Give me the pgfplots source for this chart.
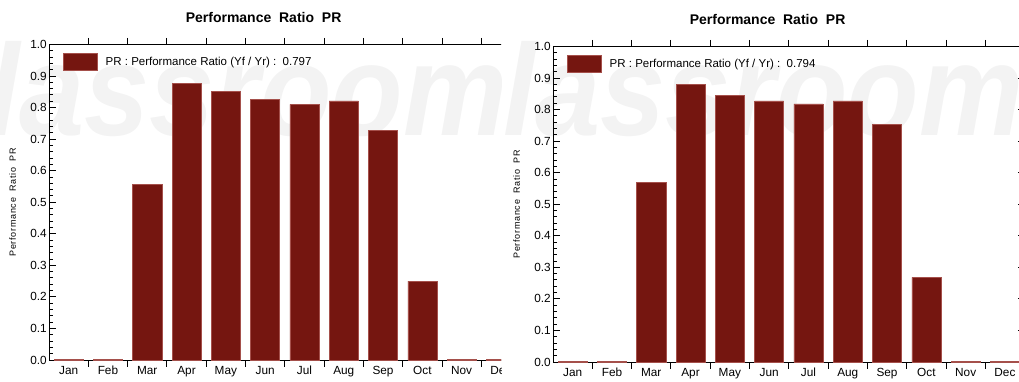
\documentclass[border=0pt]{standalone}
\usepackage{fontspec}
\setmainfont{Liberation Sans}
\usepackage{pgfplots}
\pgfplotsset{compat=1.18}

\definecolor{barred}{RGB}{117,22,16}
\definecolor{baredge}{RGB}{165,80,75}
\definecolor{wmark}{RGB}{243,243,243}

% Monthly performance ratio, one table per installation
\pgfplotstableread{
m   pr
0   0.003
1   0.003
2   0.556
3   0.876
4   0.851
5   0.826
6   0.810
7   0.821
8   0.729
9   0.250
10  0.003
11  0.003
}\prA
\pgfplotstableread{
m   pr
0   0.003
1   0.003
2   0.569
3   0.879
4   0.844
5   0.828
6   0.818
7   0.828
8   0.752
9   0.268
10  0.003
11  0.003
}\prB

\tikzset{
  wmarktext/.style={anchor=base west, inner sep=0pt, text=wmark, xscale=0.9,
    font=\fontsize{130}{130}\bfseries\itshape},
}

\pgfplotsset{
  prpanel/.style={
    scale only axis, width=471.6pt, height=315.5pt,
    anchor=south west,
    xmin=-0.5, xmax=11.5, ymin=0, ymax=1,
    axis line style={line width=1pt},
    every tick/.style={line width=1pt, black},
    tick align=inside,
    major tick length=6.5pt, minor tick length=3.5pt,
    xtick={0.5,1.5,2.5,3.5,4.5,5.5,6.5,7.5,8.5,9.5,10.5},
    xticklabels={},
    extra x ticks={0,1,2,3,4,5,6,7,8,9,10,11},
    extra x tick labels={Jan,Feb,Mar,Apr,May,Jun,Jul,Aug,Sep,Oct,Nov,Dec},
    extra x tick style={major tick length=0pt},
    ytick={0,0.1,0.2,0.3,0.4,0.5,0.6,0.7,0.8,0.9,1},
    minor y tick num=4,
    xtick pos=both, ytick pos=both,
    /pgf/number format/assume math mode=true,
    yticklabel style={/pgf/number format/fixed,
      /pgf/number format/fixed zerofill,
      /pgf/number format/precision=1, inner xsep=2pt},
    xticklabel style={yshift=-2.5pt},
    tick label style={font=\fontsize{11.8}{13}\selectfont},
    title style={font=\bfseries\fontsize{14}{17}\selectfont,
      at={(axis description cs:0.455,1)}, anchor=base, yshift=16pt},
    title={Performance\ \ Ratio\ \ PR},
    ylabel style={font=\fontsize{9}{10}\selectfont\addfontfeature{LetterSpace=8},
      at={(axis description cs:-0.077,0.5)}, anchor=center, rotate=0},
    ylabel={Performance\ \ Ratio\ \ PR},
    legend style={draw=none, fill=none,
      at={(axis description cs:0,1)}, anchor=north west,
      inner xsep=0pt, inner ysep=0pt, xshift=14pt, yshift=-8.5pt,
      font=\fontsize{11.5}{13}\selectfont,
      /tikz/every odd column/.append style={column sep=6pt}},
    ybar, bar width=0.74, bar shift=0pt,
  },
  prbars/.style={fill=barred, draw=baredge, line width=0.5pt,
    legend image code/.code={\draw[fill=barred, draw=baredge, line width=0.5pt]
      (0pt,-8.5pt) rectangle (34pt,8.5pt);}},
}

\begin{document}
\begin{tikzpicture}[x=1pt, y=1pt]
\useasboundingbox (0,0) rectangle (1019,381);

% left installation
\begin{scope}
\clip (0,0) rectangle (501,381);
\node[wmarktext] at (-78,246) {classroom};
\begin{axis}[prpanel, at={(49pt,21pt)}]
\addplot[prbars] table[x=m, y=pr] {\prA};
\addlegendentry{PR : Performance Ratio (Yf / Yr) :\ \ 0.797}
\end{axis}
\end{scope}

% right installation
\begin{scope}
\clip (505,0) rectangle (1019,381);
\node[wmarktext] at (438,246) {classroom};
\begin{axis}[prpanel, at={(553pt,19pt)}]
\addplot[prbars] table[x=m, y=pr] {\prB};
\addlegendentry{PR : Performance Ratio (Yf / Yr) :\ \ 0.794}
\end{axis}
\end{scope}
\end{tikzpicture}
\end{document}
